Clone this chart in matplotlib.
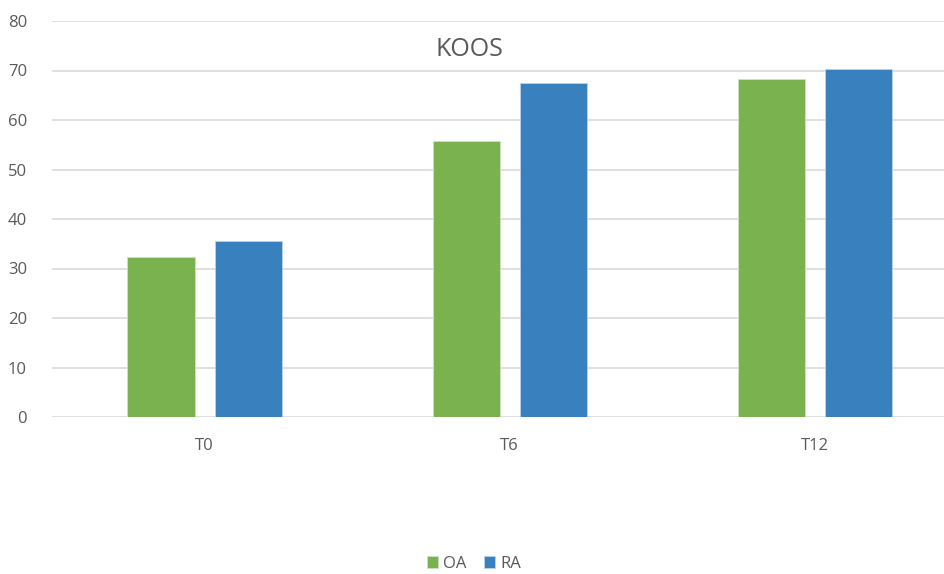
import numpy as np
import matplotlib
matplotlib.use("Agg")
import matplotlib.pyplot as plt

categories = ["T0", "T6", "T12"]
oa_values = [32.4, 55.8, 68.3]
ra_values = [35.6, 67.4, 70.4]
yticks = [0, 10, 20, 30, 40, 50, 60, 70, 80]

green = "#7AB24F"
blue = "#3880BE"
text_gray = "#595959"
grid_gray = "#D9D9D9"

plt.rcParams['font.family'] = ['Open Sans', 'DejaVu Sans']

fig = plt.figure(figsize=(9.44, 5.74), dpi=100)
ax = fig.add_axes([52 / 944, 157 / 574, (944 - 52) / 944, 396 / 574])

x = np.arange(len(categories))
w = 0.22
off = 0.143
ax.bar(x - off, oa_values, w, color=green, label="OA", zorder=3,
       edgecolor="#CFE3C0", linewidth=0.6)
ax.bar(x + off, ra_values, w, color=blue, label="RA", zorder=3,
       edgecolor="#BCD3EA", linewidth=0.6)

ax.set_xlim(-0.5, 2.423)
ax.set_ylim(0, 80)
ax.set_yticks(yticks)
ax.set_xticks(x)
ax.set_xticklabels(categories)
ax.yaxis.grid(True, color=grid_gray, linewidth=1.2, zorder=0)
ax.set_axisbelow(True)
for s in ax.spines.values():
    s.set_visible(False)
ax.tick_params(axis="both", length=0, colors=text_gray, labelsize=12)
ax.tick_params(axis="y", pad=18)
ax.tick_params(axis="x", pad=15)

fig.text(0.497, 0.914, "KOOS", ha="center", va="center", fontsize=18, color=text_gray)

fig.legend(loc="center", bbox_to_anchor=(0.502, 0.018), ncol=2, frameon=False,
           fontsize=12, labelcolor=text_gray, handlelength=0.7, handleheight=0.7,
           handletextpad=0.3, columnspacing=1.0)

fig.savefig("out.png", dpi=100)
